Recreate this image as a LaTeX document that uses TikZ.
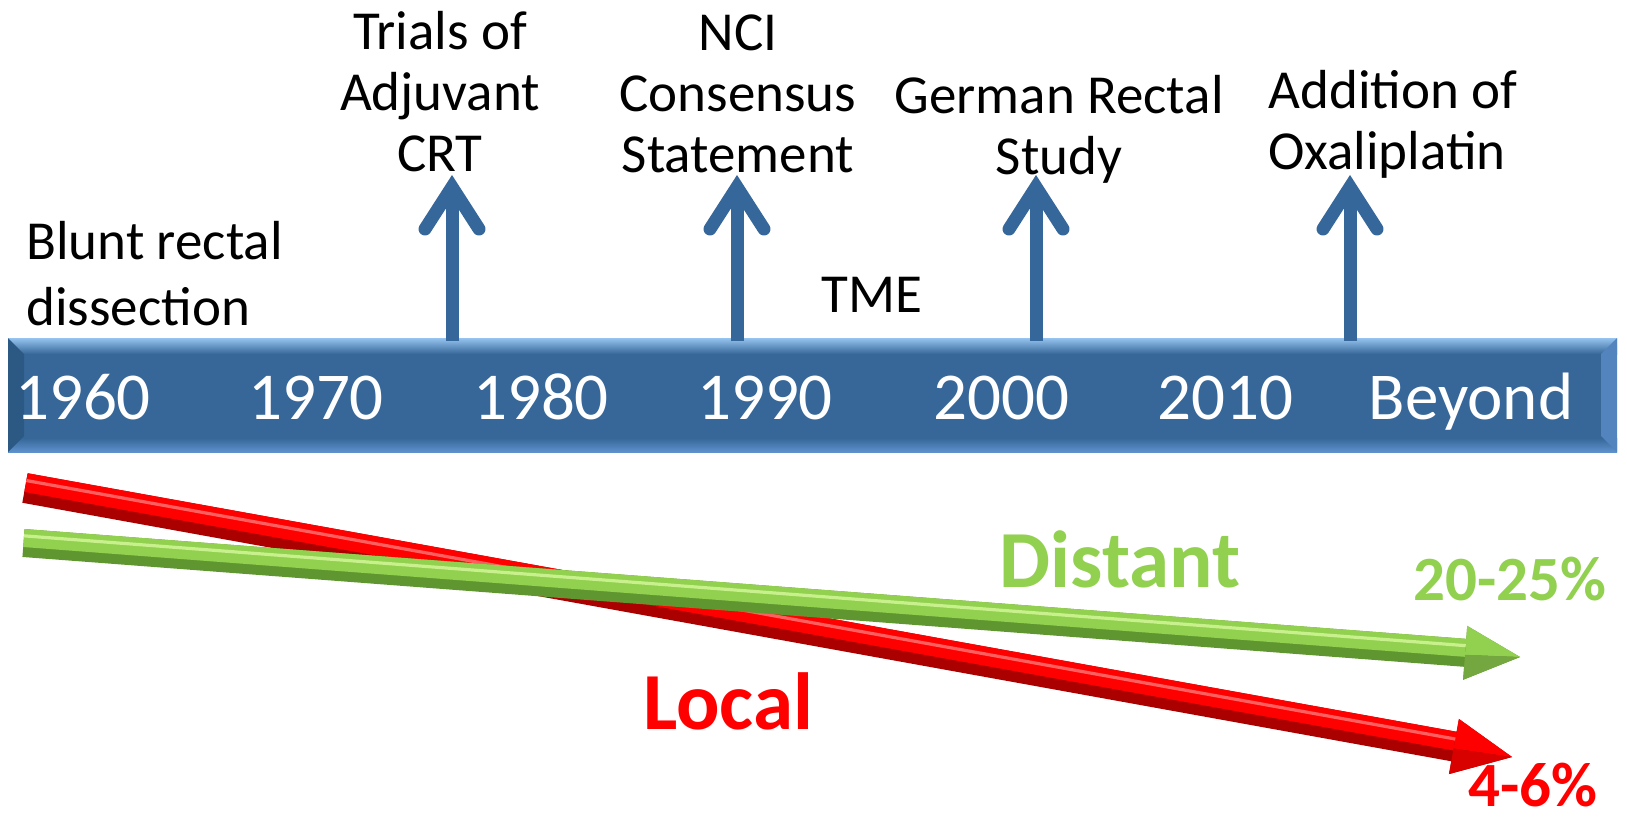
\documentclass[tikz,border=0pt]{standalone}
\usepackage{fontspec}
\setmainfont{Carlito}
\usetikzlibrary{calc}
\definecolor{barblue}{RGB}{54,103,152}
\definecolor{barlight}{RGB}{150,196,240}
\definecolor{barlow}{RGB}{95,145,205}
\definecolor{barleft}{RGB}{44,88,132}
\definecolor{arrowblue}{RGB}{54,103,154}
\definecolor{lgreen}{RGB}{146,208,80}
\definecolor{dgreen}{RGB}{96,150,48}
\definecolor{hgreen}{RGB}{200,240,140}
\definecolor{dred}{RGB}{170,0,0}
\definecolor{hred}{RGB}{255,95,95}
\tikzset{
  year/.style={anchor=base, inner sep=0pt, text=white, font=\fontsize{33.5}{40}\selectfont},
  lbl/.style={anchor=north, inner sep=0pt, align=center, font=\fontsize{27.5}{30.5}\selectfont},
  lbll/.style={anchor=north west, inner sep=0pt, align=left, font=\fontsize{27.5}{30.5}\selectfont},
  big/.style={anchor=base, inner sep=0pt, font=\bfseries\fontsize{40.5}{48}\selectfont},
  pct/.style={anchor=base, inner sep=0pt, font=\bfseries\fontsize{31.5}{38}\selectfont},
  shaft/.style={draw=arrowblue, line width=6.5pt, line cap=butt},
  chevron/.style={draw=arrowblue, line width=6.5pt, line cap=round, line join=miter},
}
\begin{document}
\begin{tikzpicture}[x=0.5pt,y=-0.5pt]
\useasboundingbox (0,0) rectangle (1627,816);

% ---------- timeline bar ----------
\fill[barblue] (8,338) rectangle (1617,452);
\shade[top color=barlight, bottom color=barblue] (8,338) rectangle (1617,354);
\shade[top color=barblue, bottom color=barlow] (8,438) rectangle (1617,452);
\fill[barleft] (8,338) -- (24,354) -- (24,436) -- (8,452) -- cycle;
\fill[barlow!70!barblue] (1617,338) -- (1601,354) -- (1601,436) -- (1617,452) -- cycle;

\node[year] (y1960) at (83,419) {1960};
\node[year] (y1970) at (316,419) {1970};
\node[year] (y1980) at (541,419) {1980};
\node[year] (y1990) at (765,419) {1990};
\node[year] (y2000) at (1001,419) {2000};
\node[year] (y2010) at (1225,419) {2010};
\node[year] (ybeyond) at (1471,419) {Beyond};

% ---------- event labels ----------
\node[lbll, font=\fontsize{27.5}{33}\selectfont] (blunt) at (26,213) {\strut Blunt rectal\\dissection};
\node[lbl] (trials) at (440,6) {\strut Trials of\\Adjuvant\\CRT};
\node[lbl] (nci) at (738,7) {\strut NCI\\Consensus\\Statement};
\node[anchor=base, inner sep=0pt, font=\fontsize{27.5}{30.5}\selectfont] (tme) at (872,312) {TME};
\node[lbl] (german) at (1059,70) {\strut German Rectal\\Study};
\node[lbll] (oxali) at (1268,65) {\strut Addition of\\Oxaliplatin};

% ---------- blue up arrows ----------
\foreach \n/\x in {a1/452, a2/737, a3/1036, a4/1350} {
  \coordinate (\n base) at (\x,341);
  \coordinate (\n tip) at (\x,187);
  \draw[shaft] (\n base) -- ($(\n tip)+(0,4)$);
  \draw[chevron] ($(\n tip)+(-27,42)$) -- (\n tip) -- ($(\n tip)+(27,42)$);
}

% ---------- red arrow (Local) ----------
\coordinate (rS) at (25,488);
\coordinate (rT) at (1512,757);
\coordinate (rB) at ($(rT)!29.5pt!(rS)$);
\fill[dred] ($(rS)!7.5pt!90:(rT)$) -- ($(rB)!7.5pt!90:(rT)$) -- ($(rB)!14pt!90:(rT)$) -- (rT)
  -- ($(rB)!14pt!-90:(rT)$) -- ($(rB)!7.5pt!-90:(rT)$) -- ($(rS)!7.5pt!-90:(rT)$) -- cycle;
\fill[red] ($(rS)!7.5pt!90:(rT)$) -- ($(rB)!7.5pt!90:(rT)$) -- ($(rB)!2pt!-90:(rT)$) -- ($(rS)!2pt!-90:(rT)$) -- cycle;
\fill[red] ($(rB)!14pt!90:(rT)$) -- (rT) -- ($(rB)!1pt!-90:(rT)$) -- cycle;
\fill[red!85!black] ($(rB)!14pt!-90:(rT)$) -- (rT) -- ($(rB)!1pt!-90:(rT)$) -- cycle;
\draw[hred, line width=1.6pt] ($(rS)!3.8pt!90:(rT)$) -- ($(rB)!3.8pt!90:(rT)$);

% ---------- green arrow (Distant) ----------
\coordinate (gS) at (23.5,543);
\coordinate (gT) at (1520,657);
\coordinate (gB) at ($(gT)!27.5pt!(gS)$);
\fill[dgreen] ($(gS)!7pt!90:(gT)$) -- ($(gB)!7pt!90:(gT)$) -- ($(gB)!13.5pt!90:(gT)$) -- (gT)
  -- ($(gB)!13.5pt!-90:(gT)$) -- ($(gB)!7pt!-90:(gT)$) -- ($(gS)!7pt!-90:(gT)$) -- cycle;
\fill[lgreen] ($(gS)!7pt!90:(gT)$) -- ($(gB)!7pt!90:(gT)$) -- ($(gB)!2pt!-90:(gT)$) -- ($(gS)!2pt!-90:(gT)$) -- cycle;
\fill[lgreen] ($(gB)!13.5pt!90:(gT)$) -- (gT) -- ($(gB)!1pt!-90:(gT)$) -- cycle;
\fill[lgreen!80!black] ($(gB)!13.5pt!-90:(gT)$) -- (gT) -- ($(gB)!1pt!-90:(gT)$) -- cycle;
\draw[hgreen, line width=1.6pt] ($(gS)!3.6pt!90:(gT)$) -- ($(gB)!3.6pt!90:(gT)$);

% ---------- trend labels ----------
\node[big, text=lgreen] (distant) at (1120,587) {Distant};
\node[big, text=red] (local) at (728,729) {Local};
\node[pct, text=lgreen] (p2025) at (1510,600) {20-25\%};
\node[pct, text=red] (p46) at (1533,806) {4-6\%};
\end{tikzpicture}
\end{document}
